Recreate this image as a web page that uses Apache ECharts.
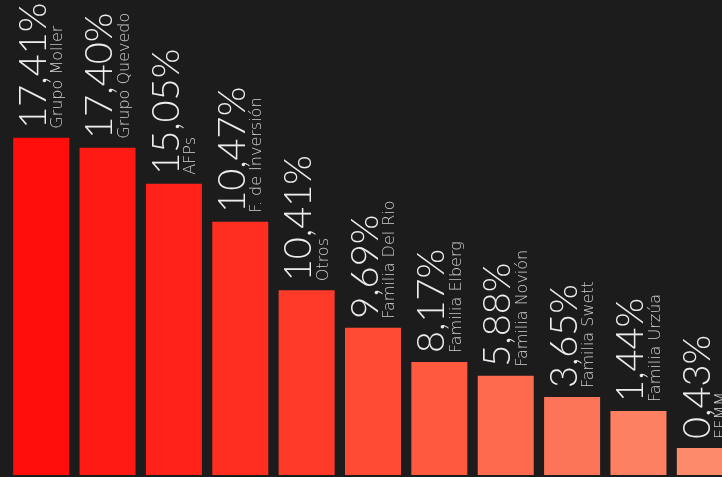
<!DOCTYPE html>
<html>
<head>
<meta charset="utf-8">
<script src="https://cdn.jsdelivr.net/npm/echarts@6/dist/echarts.min.js"></script>
<style>
html,body{margin:0;padding:0;background:#1c1c1c;overflow:hidden;}
#chart{width:738px;height:477px;}
</style>
</head>
<body>
<div id="chart"></div>
<script>
// Owner names
const categories = ['Grupo Moller','Grupo Quevedo','AFPs','F. de Inversión','Otros','Familia Del Rio','Familia Elberg','Familia Novión','Familia Swett','Familia Urzúa','EFMM'];
// Ownership share shown in the labels (%)
const shares = [17.41, 17.40, 15.05, 10.47, 10.41, 9.69, 8.17, 5.88, 3.65, 1.44, 0.43];
// Bar heights as drawn in the picture (share of plot height, %) – not proportional to the shares
const barLevels = [71.0, 68.9, 61.3, 53.3, 38.9, 31.0, 23.8, 20.9, 16.4, 13.5, 5.7];
// Bar colours, bright red to salmon
const colors = ['#ff0e0c','#ff1a14','#ff221a','#ff2e20','#ff3a28','#ff4b34','#ff5a40','#fe6a4d','#fd7558','#fd8062','#fe8a6c'];

const fmt = v => v.toFixed(2).replace('.', ',') + '%';

const chart = echarts.init(document.getElementById('chart'));
chart.setOption({
  backgroundColor: '#1c1c1c',
  animation: false,
  grid: { left: 8, right: 0, top: 0, bottom: 2, containLabel: false },
  xAxis: { type: 'category', data: categories, show: false },
  yAxis: { type: 'value', min: 0, max: 100, show: false },
  series: [{
    type: 'bar',
    barCategoryGap: '15.6%',
    data: barLevels.map((v, i) => ({ value: v, itemStyle: { color: colors[i] } })),
    label: {
      show: true,
      position: 'top',
      distance: 9,
      rotate: 90,
      align: 'left',
      verticalAlign: 'middle',
      formatter: p => '{v|' + fmt(shares[p.dataIndex]) + '}\n{n|' + categories[p.dataIndex] + '}',
      rich: {
        v: { fontFamily: 'Lato', fontWeight: 300, fontSize: 38, lineHeight: 34, color: '#ececec' },
        n: { fontFamily: 'DejaVu Sans', fontWeight: 200, fontSize: 16, lineHeight: 15, color: '#d0d0d0' }
      }
    }
  }]
});
</script>
</body>
</html>
